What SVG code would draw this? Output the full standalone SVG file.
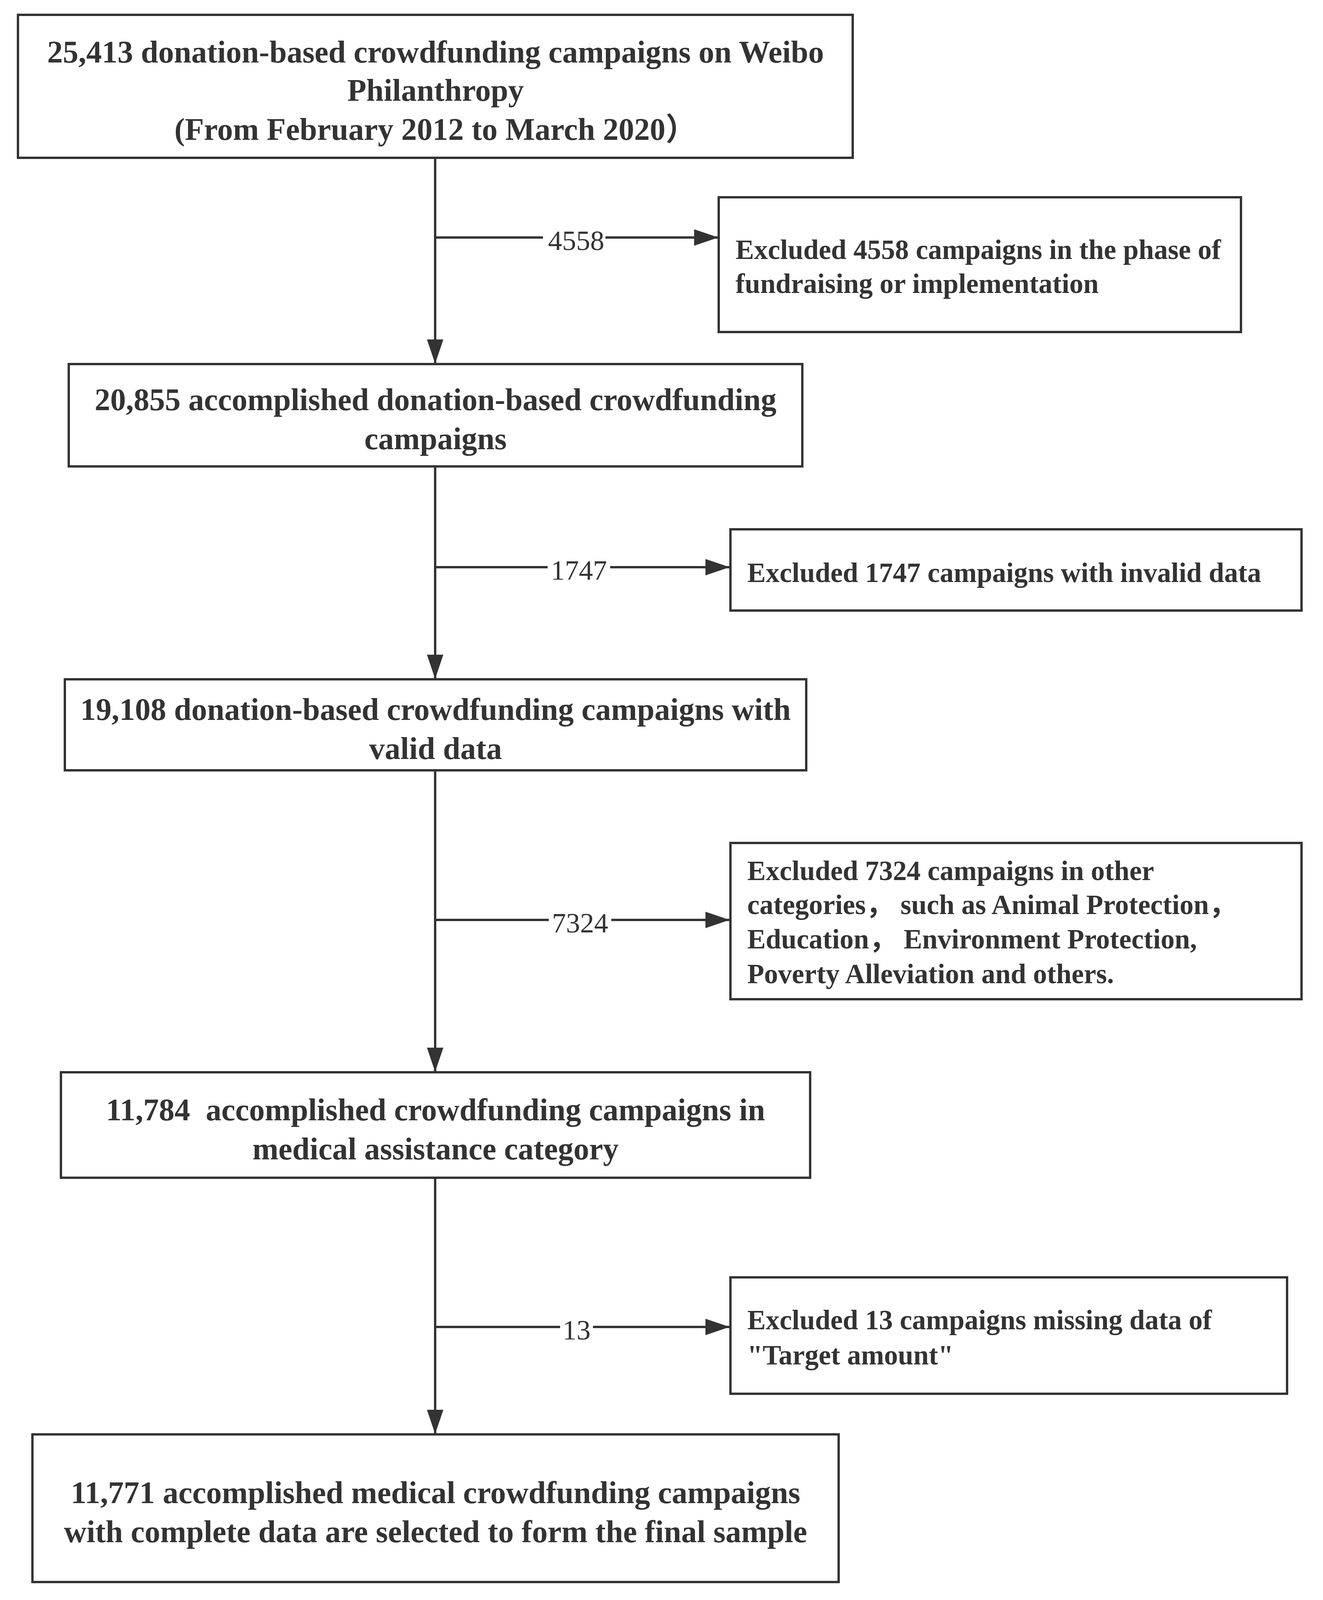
<svg xmlns="http://www.w3.org/2000/svg" width="3387" height="4100" viewBox="0 0 3387 4100">
<style>
.box{fill:#ffffff;stroke:#333333;stroke-width:6}
.main{font-family:"Liberation Serif","Noto Sans CJK SC",serif;font-weight:bold;font-size:80px;fill:#333333;text-anchor:middle}
.side{font-family:"Liberation Serif","Noto Sans CJK SC",serif;font-weight:bold;font-size:71px;fill:#333333}
.lbl{font-family:"Liberation Serif",serif;font-size:72px;fill:#333333;text-anchor:middle}
.ln{fill:none;stroke:#333333;stroke-width:6}
</style>
<defs>
<marker id="ah" markerUnits="userSpaceOnUse" markerWidth="70" markerHeight="50" refX="62" refY="21" orient="auto">
<path d="M0,0 L62,21 L0,42 Z" fill="#333333"/>
</marker>
</defs>
<rect width="3387" height="4100" fill="#ffffff"/>
<g id="connectors">
<line class="ln" x1="1114" y1="404" x2="1114" y2="931" marker-end="url(#ah)"/>
<line class="ln" x1="1114" y1="1194" x2="1114" y2="1738" marker-end="url(#ah)"/>
<line class="ln" x1="1114" y1="1972" x2="1114" y2="2744" marker-end="url(#ah)"/>
<line class="ln" x1="1114" y1="3015" x2="1114" y2="3671" marker-end="url(#ah)"/>
<line class="ln" x1="1114" y1="608" x2="1839" y2="608" marker-end="url(#ah)"/>
<line class="ln" x1="1114" y1="1452" x2="1868" y2="1452" marker-end="url(#ah)"/>
<line class="ln" x1="1114" y1="2355" x2="1868" y2="2355" marker-end="url(#ah)"/>
<line class="ln" x1="1114" y1="3397" x2="1868" y2="3397" marker-end="url(#ah)"/>
<rect x="1390" y="595" width="160" height="30" fill="#ffffff"/>
<text class="lbl" x="1475" y="640">4558</text>
<rect x="1402" y="1439" width="160" height="30" fill="#ffffff"/>
<text class="lbl" x="1482" y="1484">1747</text>
<rect x="1405" y="2342" width="160" height="30" fill="#ffffff"/>
<text class="lbl" x="1485" y="2387">7324</text>
<rect x="1434" y="3384" width="84" height="30" fill="#ffffff"/>
<text class="lbl" x="1476" y="3429">13</text>
</g>
<g id="n1">
<rect class="box" x="46" y="38" width="2137" height="366"/>
<text class="main" x="1115" y="160">25,413 donation-based crowdfunding campaigns on Weibo</text>
<text class="main" x="1115" y="258">Philanthropy</text>
<text class="main" x="1115" y="358">(From February 2012 to March 2020）</text>
</g>
<g id="n2">
<rect class="box" x="1840" y="505" width="1337" height="345"/>
<text class="side" x="1883" y="663">Excluded 4558 campaigns in the phase of</text>
<text class="side" x="1883" y="750">fundraising or implementation</text>
</g>
<g id="n3">
<rect class="box" x="176" y="932" width="1878" height="262"/>
<text class="main" x="1115" y="1050">20,855 accomplished donation-based crowdfunding</text>
<text class="main" x="1115" y="1150">campaigns</text>
</g>
<g id="n4">
<rect class="box" x="1870" y="1355" width="1462" height="208"/>
<text class="side" x="1913" y="1490">Excluded 1747 campaigns with invalid data</text>
</g>
<g id="n5">
<rect class="box" x="166" y="1739" width="1898" height="233"/>
<text class="main" x="1115" y="1843">19,108 donation-based crowdfunding campaigns with</text>
<text class="main" x="1115" y="1943">valid data</text>
</g>
<g id="n6">
<rect class="box" x="1870" y="2158" width="1462" height="400"/>
<text class="side" x="1913" y="2253">Excluded 7324 campaigns in other</text>
<text class="side" x="1913" y="2340">categories， such as Animal Protection，</text>
<text class="side" x="1913" y="2428">Education， Environment Protection,</text>
<text class="side" x="1913" y="2517">Poverty Alleviation and others.</text>
</g>
<g id="n7">
<rect class="box" x="156" y="2745" width="1918" height="270"/>
<text class="main" x="1115" y="2868">11,784&#160; accomplished crowdfunding campaigns in</text>
<text class="main" x="1115" y="2968">medical assistance category</text>
</g>
<g id="n8">
<rect class="box" x="1870" y="3270" width="1425" height="298"/>
<text class="side" x="1913" y="3403">Excluded 13 campaigns missing data of</text>
<text class="side" x="1913" y="3493">"Target amount"</text>
</g>
<g id="n9">
<rect class="box" x="83" y="3672" width="2064" height="378"/>
<text class="main" x="1115" y="3848">11,771 accomplished medical crowdfunding campaigns</text>
<text class="main" x="1115" y="3948">with complete data are selected to form the final sample</text>
</g>
</svg>
